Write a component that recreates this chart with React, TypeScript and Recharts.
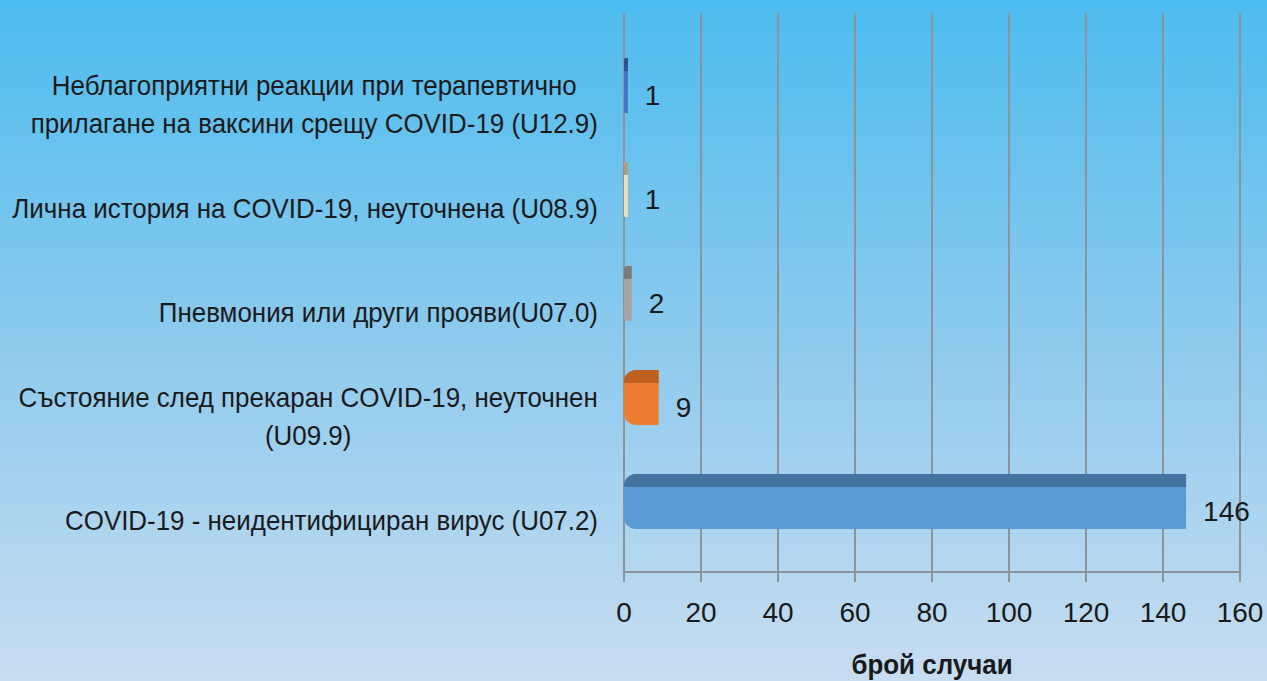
import React from 'react';
import { BarChart, Bar, XAxis, YAxis, CartesianGrid, LabelList } from 'recharts';

const categories = ['U12.9', 'U08.9', 'U07.0', 'U09.9', 'U07.2'];
const labelLines = [
  ['Неблагоприятни реакции при терапевтично', 'прилагане на ваксини срещу COVID-19 (U12.9)'],
  ['Лична история на COVID-19, неуточнена (U08.9)'],
  ['Пневмония или други прояви(U07.0)'],
  ['Състояние след прекаран COVID-19, неуточнен', '(U09.9)'],
  ['COVID-19 - неидентифициран  вирус (U07.2)'],
];
const values = [1, 1, 2, 9, 146];
const xTicks = [0, 20, 40, 60, 80, 100, 120, 140, 160];
const axisTitle = 'брой случаи';

const fills = ['#4472c4', '#f3dfb6', '#a5a5a5', '#ed7d31', '#5b9bd5'];
const tops = ['#2f528f', '#b39a78', '#7b7b7b', '#c0601e', '#4474a0'];

const FONT = '"Liberation Sans", Arial, sans-serif';
const FS = 28;
const GRID = '#8d939a';
const TXT = '#1a1a1a';

const data = categories.map((c, i) => ({ name: c, value: values[i], idx: i }));

let ctx: CanvasRenderingContext2D | null = null;
const measure = (s: string, bold = false) => {
  if (!ctx) ctx = document.createElement('canvas').getContext('2d');
  if (!ctx) return s.length * FS * 0.5;
  ctx.font = `${bold ? 'bold ' : ''}${FS}px ${FONT}`;
  return ctx.measureText(s).width;
};

// the original font is narrower than Liberation Sans: squeeze the labels
const squeeze = () => Math.min(1, 586 / measure(labelLines[1][0]));

const CatTick = (props: any) => {
  const { y, index } = props;
  const lines = labelLines[index] || [];
  const f = squeeze();
  const right = 598;
  const lh = 38;
  const cy = y + 20;
  const y0 = cy - ((lines.length - 1) * lh) / 2;
  const multi = lines.length > 1;
  const w = multi ? Math.max(...lines.map((l) => measure(l))) * f : 0;
  const ax = multi ? right - w / 2 : right;
  return (
    <g>
      {lines.map((l, k) => (
        <text
          key={k}
          transform={`translate(${ax},${y0 + k * lh}) scale(${f},1)`}
          x={0}
          y={0}
          textAnchor={multi ? 'middle' : 'end'}
          dominantBaseline="central"
          fontFamily={FONT}
          fontSize={FS}
          fill={TXT}
        >
          {l}
        </text>
      ))}
    </g>
  );
};

const NumTick = (props: any) => {
  const { x, y, payload } = props;
  return (
    <text x={x} y={y + 30} textAnchor="middle" dominantBaseline="central" fontFamily={FONT} fontSize={FS} fill={TXT}>
      {payload.value}
    </text>
  );
};

const BarShape = (props: any) => {
  const { x, y, width, height, index } = props;
  const w = Math.max(width, 0);
  const r = Math.min(12, w / 2, height / 2);
  const s = 13;
  const body = `M${x + r},${y} H${x + w} V${y + height} H${x + r} A${r},${r} 0 0 1 ${x},${y + height - r} V${y + r} A${r},${r} 0 0 1 ${x + r},${y} Z`;
  const top = `M${x + r},${y} H${x + w} V${y + s} H${x} V${y + r} A${r},${r} 0 0 1 ${x + r},${y} Z`;
  return (
    <g>
      <path d={body} fill={fills[index]} />
      <path d={top} fill={tops[index]} />
    </g>
  );
};

const ValueLabel = (props: any) => {
  const { x, y, width, height, value } = props;
  return (
    <text x={x + width + 17} y={y + height / 2 + 10} dominantBaseline="central" fontFamily={FONT} fontSize={FS} fill={TXT}>
      {value}
    </text>
  );
};

const TitleLabel = (props: any) => {
  const { viewBox } = props;
  const f = squeeze();
  return (
    <text
      transform={`translate(${viewBox.x + viewBox.width / 2},${viewBox.y + 93}) scale(${f},1)`}
      x={0}
      y={0}
      textAnchor="middle"
      dominantBaseline="central"
      fontFamily={FONT}
      fontSize={FS}
      fontWeight="bold"
      fill={TXT}
    >
      {axisTitle}
    </text>
  );
};

export default function App() {
  return (
    <div
      style={{
        position: 'fixed',
        left: 0,
        top: 0,
        width: 1267,
        height: 681,
        background: 'linear-gradient(to bottom, #4cbcee 0%, #8dcaee 50%, #c7ddf1 100%)',
      }}
    >
      <BarChart width={1267} height={681} data={data} layout="vertical" margin={{ top: 13, right: 27, left: 0, bottom: 49 }}>
        <CartesianGrid horizontal={false} vertical stroke={GRID} strokeWidth={2} />
        <XAxis
          type="number"
          domain={[0, 160]}
          ticks={xTicks}
          height={60}
          axisLine={{ stroke: GRID, strokeWidth: 2 }}
          tickLine={{ stroke: GRID, strokeWidth: 2 }}
          tickSize={10}
          tickMargin={0}
          tick={<NumTick />}
          label={<TitleLabel />}
        />
        <YAxis
          type="category"
          dataKey="name"
          width={624}
          axisLine={false}
          tickLine={false}
          tick={<CatTick />}
          padding={{ top: 20, bottom: 19 }}
        />
        <Bar dataKey="value" barSize={55} shape={<BarShape />} isAnimationActive={false}>
          <LabelList dataKey="value" content={<ValueLabel />} />
        </Bar>
      </BarChart>
    </div>
  );
}
